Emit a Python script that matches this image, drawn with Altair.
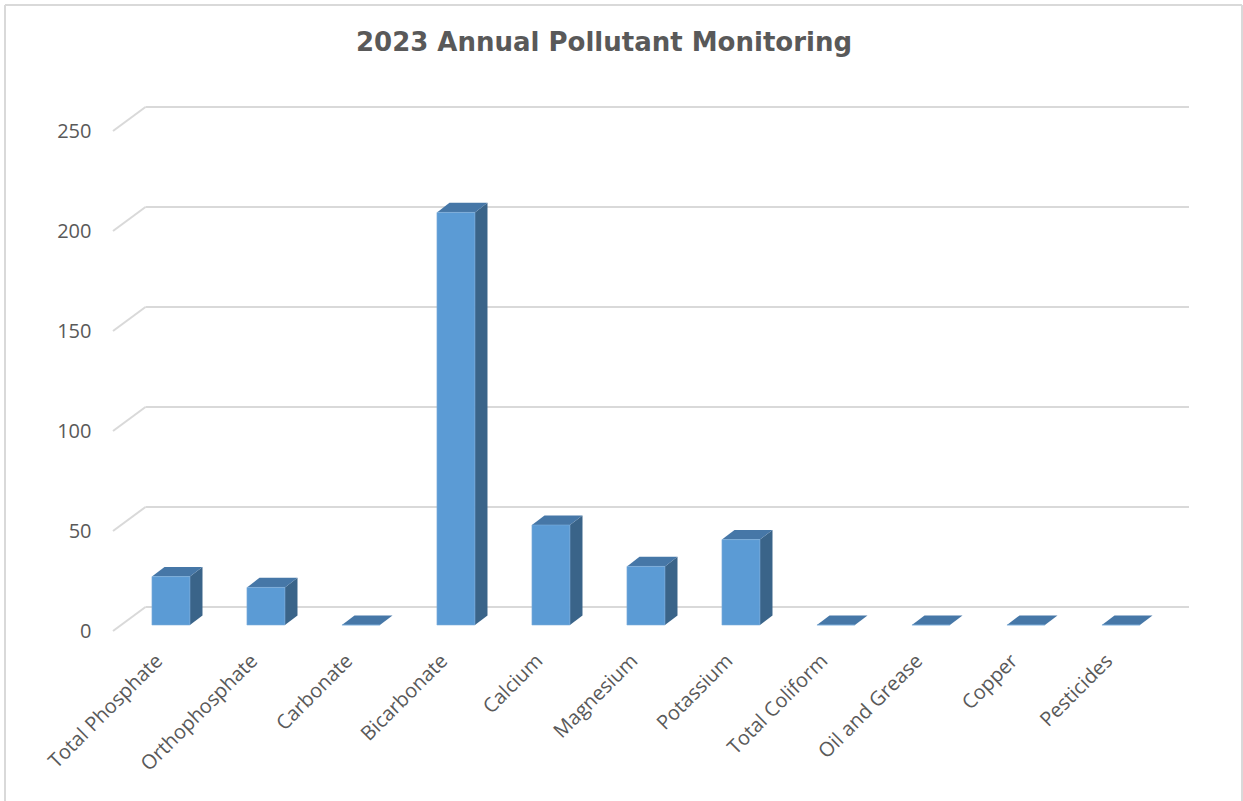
import altair as alt
import pandas as pd

# ---- data ----
categories = ["Total Phosphate", "Orthophosphate", "Carbonate", "Bicarbonate",
              "Calcium", "Magnesium", "Potassium", "Total Coliform",
              "Oil and Grease", "Copper", "Pesticides"]
values = [24.2, 18.8, 0, 206.3, 50, 29.3, 42.7, 0, 0, 0, 0]
y_ticks = [0, 50, 100, 150, 200, 250]
title_text = "2023 Annual Pollutant Monitoring"

# ---- styling / pseudo-3D geometry (in scale units) ----
PLOT_W, PLOT_H = 1076, 524
SLOT_PX = 95
X_MAX = PLOT_W / SLOT_PX      # category slots across the plot
Y_MAX = 262                   # value units across the plot
WALL_DX, WALL_DY = 0.342, 12  # depth of the walls
BAR_LEFT, BAR_W = 0.41, 0.40
BAR_DX, BAR_DY = 0.132, 4.8   # depth of a bar
BAR_BASE = 3
LABEL_DX, LABEL_Y = 0.49, -13.5

FRONT = "#5B9BD5"
TOP = "#4677A7"
SIDE = "#3A6489"
GRID = "#D9D9D9"
TEXT = "#595959"

xs = alt.Scale(domain=[0, X_MAX], nice=False, zero=False)
ys = alt.Scale(domain=[0, Y_MAX], nice=False, zero=False)
y_axis = alt.Axis(
    values=y_ticks, domain=False, ticks=False, grid=False, title=None,
    labelFont="Open Sans", labelFontSize=20, labelColor=TEXT, labelPadding=22)

bars = pd.DataFrame({"name": categories, "value": values})
bars["idx"] = range(len(categories))
bars["x0"] = bars["idx"] + BAR_LEFT
bars["x1"] = bars["x0"] + BAR_W
bars["y0"] = float(BAR_BASE)
bars["y1"] = BAR_BASE + bars["value"]
bars["lx"] = bars["idx"] + LABEL_DX
bars["ly"] = LABEL_Y

side_rows, top_rows = [], []
for r in bars.to_dict("records"):
    side_rows.append({"name": r["name"], "x": r["x1"], "yt": r["y1"], "yb": r["y0"]})
    side_rows.append({"name": r["name"], "x": r["x1"] + BAR_DX, "yt": r["y1"] + BAR_DY, "yb": r["y0"] + BAR_DY})
    top_rows.append({"name": r["name"], "y": r["y1"], "xa": r["x0"], "xb": r["x1"]})
    top_rows.append({"name": r["name"], "y": r["y1"] + BAR_DY, "xa": r["x0"] + BAR_DX, "xb": r["x1"] + BAR_DX})
side_df = pd.DataFrame(side_rows)
top_df = pd.DataFrame(top_rows)

grid = pd.DataFrame({"g": y_ticks})
grid["gx0"] = 0.0
grid["gx1"] = WALL_DX
grid["gx2"] = X_MAX
grid["gb"] = grid["g"] + WALL_DY

wall_side = alt.Chart(grid).mark_rule(color=GRID, strokeWidth=2).encode(
    x=alt.X("gx0:Q", scale=xs, axis=None),
    x2="gx1:Q",
    y=alt.Y("g:Q", scale=ys, axis=y_axis),
    y2="gb:Q",
)
wall_back = alt.Chart(grid).mark_rule(color=GRID, strokeWidth=2).encode(
    x=alt.X("gx1:Q", scale=xs, axis=None),
    x2="gx2:Q",
    y=alt.Y("gb:Q", scale=ys, axis=y_axis),
)

side = alt.Chart(side_df).mark_area(color=SIDE, opacity=1).encode(
    x=alt.X("x:Q", scale=xs, axis=None),
    y=alt.Y("yt:Q", scale=ys, axis=y_axis),
    y2="yb:Q",
    detail="name:N",
)
top = alt.Chart(top_df).mark_area(color=TOP, opacity=1, orient="horizontal").encode(
    y=alt.Y("y:Q", scale=ys, axis=y_axis),
    x=alt.X("xa:Q", scale=xs, axis=None),
    x2="xb:Q",
    detail="name:N",
)
front = alt.Chart(bars).mark_rect(color=FRONT, stroke="#7EAEDC", strokeWidth=0.6).encode(
    x=alt.X("x0:Q", scale=xs, axis=None),
    x2="x1:Q",
    y=alt.Y("y0:Q", scale=ys, axis=y_axis),
    y2="y1:Q",
)
labels = alt.Chart(bars).mark_text(
    angle=315, align="right", baseline="middle",
    font="Open Sans", fontSize=20, color=TEXT,
).encode(
    x=alt.X("lx:Q", scale=xs, axis=None),
    y=alt.Y("ly:Q", scale=ys, axis=y_axis),
    text="name:N",
)

one = pd.DataFrame({"k": [0]})
PAD_L, PAD_T = 113, 107
border = alt.layer(
    alt.Chart(one).mark_rule(color=GRID, strokeWidth=2).encode(
        x=alt.value(5 - PAD_L), y=alt.value(5 - PAD_T), y2=alt.value(820 - PAD_T)),
    alt.Chart(one).mark_rule(color=GRID, strokeWidth=2).encode(
        x=alt.value(5 - PAD_L), x2=alt.value(1242 - PAD_L), y=alt.value(5 - PAD_T)),
    alt.Chart(one).mark_rule(color=GRID, strokeWidth=2).encode(
        x=alt.value(1242 - PAD_L), y=alt.value(5 - PAD_T), y2=alt.value(820 - PAD_T)),
)

chart = alt.layer(wall_side, wall_back, side, top, front, labels, border).properties(
    width=PLOT_W,
    height=PLOT_H,
    padding={"left": PAD_L, "top": PAD_T, "right": 1243 - PAD_L - PLOT_W, "bottom": 801 - PAD_T - PLOT_H},
    autosize=alt.AutoSizeParams(type="none"),
    background="white",
    title=alt.TitleParams(
        title_text, font="DejaVu Sans", fontSize=26, fontWeight="bold", color=TEXT,
        anchor="middle", frame="group", baseline="alphabetic", offset=-73, dx=-47,
    ),
).configure_view(stroke=None)

chart.save("out.html", embed_options={"renderer": "svg", "actions": False})
